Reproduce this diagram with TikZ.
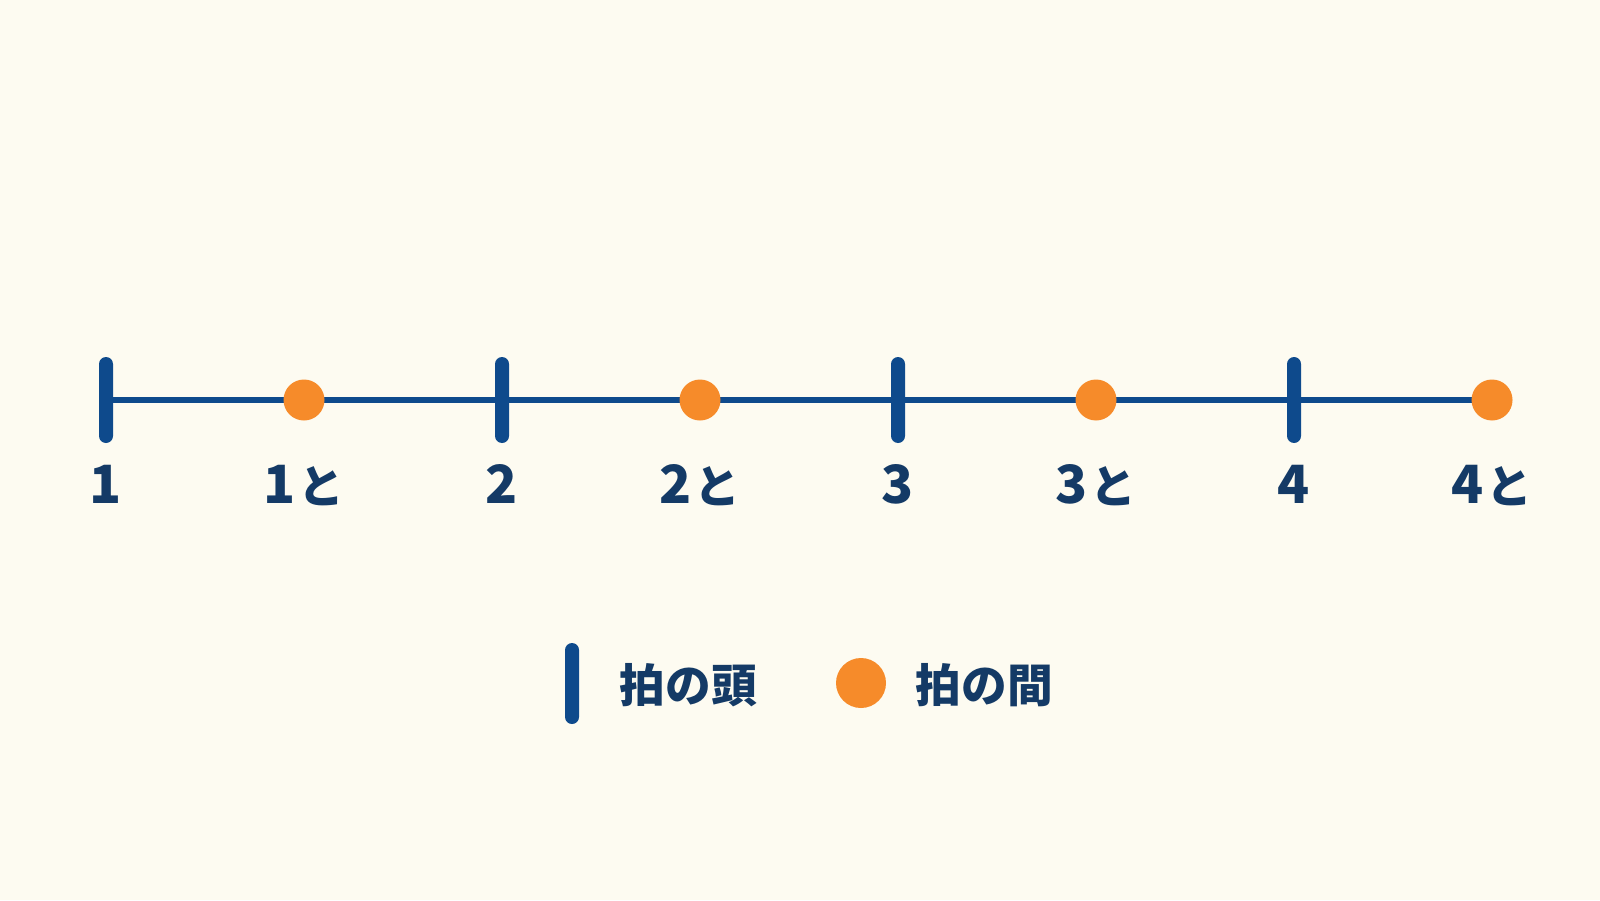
\documentclass[tikz,border=0pt]{standalone}
\usepackage{fontspec}
\setmainfont{Noto Sans CJK JP}
\definecolor{bgcream}{HTML}{FDFBF1}
\definecolor{beatnavy}{HTML}{0E4A8C}
\definecolor{labelnavy}{HTML}{143A66}
\definecolor{offorange}{HTML}{F68B2A}
\newcommand{\andmark}{{\fontsize{13}{15}\selectfont と}}
\tikzset{
  beatline/.style={draw=beatnavy,line width=1.5pt},
  downbeat/.style={rectangle,fill=beatnavy,minimum width=0.14cm,minimum height=0.86cm,rounded corners=0.07cm,inner sep=0pt},
  offbeat/.style={circle,fill=offorange,minimum size=0.41cm,inner sep=0pt},
  countlabel/.style={anchor=base,text=labelnavy,font=\fontsize{15}{18}\selectfont\bfseries,inner sep=0pt},
  legendtext/.style={anchor=west,text=labelnavy,font=\fontsize{13}{15}\selectfont\bfseries,inner sep=0pt}
}
\begin{document}
\begin{tikzpicture}
\fill[bgcream] (0,0) rectangle (16,9);
\useasboundingbox (0,0) rectangle (16,9);

\coordinate (start) at (1.06,5);
\coordinate (end) at (14.92,5);
\draw[beatline] (start) -- (end);

\foreach\i in {1,2,3,4} {
\node[downbeat] (head\i) at ({1.06+3.96*(\i-1)},5) {};
\node[offbeat] (and\i) at ({3.04+3.96*(\i-1)},5) {};
\node[countlabel] (headlbl\i) at ({1.06+3.96*(\i-1)},3.97) {\i};
\node[countlabel] (andlbl\i) at ({3.04+3.96*(\i-1)},3.97) {\i\kern1pt\andmark};
}

\node[downbeat,minimum height=0.81cm] (keyhead) at (5.72,2.165) {};
\node[legendtext] (keyheadtxt) at (6.19,2.15) {拍の頭};
\node[offbeat,minimum size=0.5cm] (keyand) at (8.61,2.17) {};
\node[legendtext] (keyandtxt) at (9.15,2.15) {拍の間};
\end{tikzpicture}
\end{document}
